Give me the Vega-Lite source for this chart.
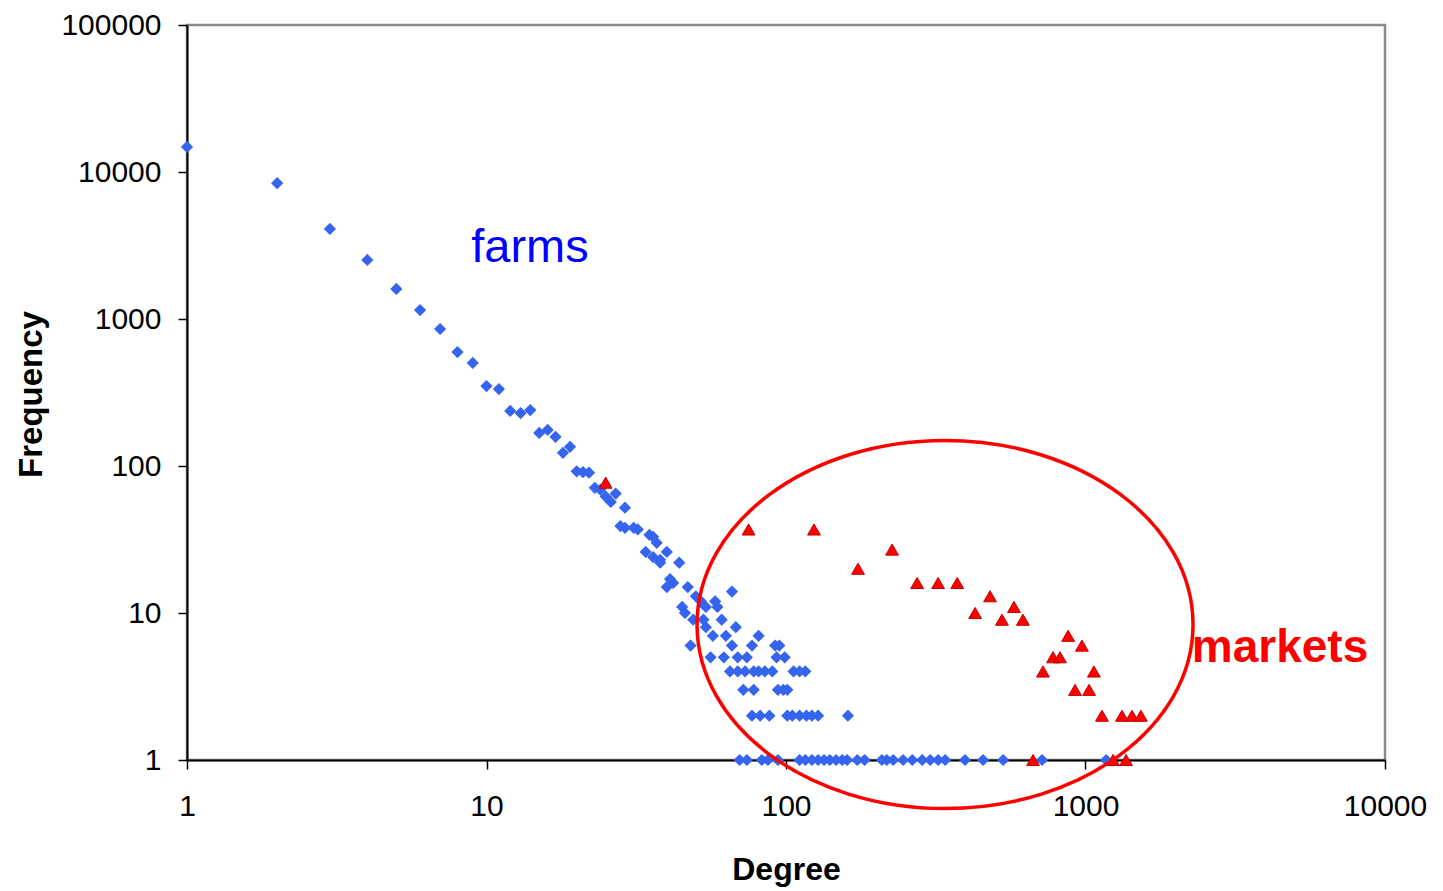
{
  "$schema": "https://vega.github.io/schema/vega-lite/v6.json",
  "autosize": "none",
  "width": 1198,
  "height": 735,
  "padding": {"left": 187, "top": 25, "right": 58, "bottom": 131},
  "background": "white",
  "config": {
    "font": "Liberation Sans",
    "view": {"stroke": "#8a8a8a", "strokeWidth": 2.5},
    "axis": {
      "domainColor": "black", "domainWidth": 2,
      "tickColor": "black", "tickWidth": 1.5, "tickSize": 9,
      "labelColor": "black", "labelFontSize": 30, "labelFont": "Liberation Sans",
      "titleColor": "black", "titleFont": "Liberation Sans", "titleFontWeight": "bold", "titleFontSize": 30,
      "grid": false
    }
  },
  "datasets": {
    "farms": [
      {"degree": 1, "freq": 14800}, {"degree": 2, "freq": 8400}, {"degree": 3, "freq": 4100}, {"degree": 4, "freq": 2520},
      {"degree": 5, "freq": 1600}, {"degree": 6, "freq": 1150}, {"degree": 7, "freq": 855}, {"degree": 8, "freq": 596},
      {"degree": 9, "freq": 502}, {"degree": 10, "freq": 350}, {"degree": 11, "freq": 334}, {"degree": 12, "freq": 237},
      {"degree": 13, "freq": 229}, {"degree": 14, "freq": 240}, {"degree": 15, "freq": 168}, {"degree": 16, "freq": 176},
      {"degree": 17, "freq": 158}, {"degree": 18, "freq": 123}, {"degree": 19, "freq": 135}, {"degree": 20, "freq": 92},
      {"degree": 21, "freq": 91}, {"degree": 22, "freq": 90}, {"degree": 23, "freq": 71}, {"degree": 24, "freq": 69},
      {"degree": 25, "freq": 62}, {"degree": 26, "freq": 57}, {"degree": 27, "freq": 65}, {"degree": 29, "freq": 52},
      {"degree": 28, "freq": 39}, {"degree": 29, "freq": 38}, {"degree": 31, "freq": 38}, {"degree": 32, "freq": 37},
      {"degree": 35, "freq": 34}, {"degree": 36, "freq": 33}, {"degree": 37, "freq": 30}, {"degree": 34, "freq": 26},
      {"degree": 36, "freq": 24}, {"degree": 38, "freq": 23}, {"degree": 40, "freq": 26}, {"degree": 38, "freq": 22},
      {"degree": 44, "freq": 22}, {"degree": 41, "freq": 17}, {"degree": 42, "freq": 16}, {"degree": 40, "freq": 15},
      {"degree": 47, "freq": 15}, {"degree": 66, "freq": 14}, {"degree": 50, "freq": 13}, {"degree": 52, "freq": 12},
      {"degree": 54, "freq": 11}, {"degree": 58, "freq": 12}, {"degree": 59, "freq": 11}, {"degree": 45, "freq": 11},
      {"degree": 46, "freq": 10}, {"degree": 49, "freq": 9}, {"degree": 53, "freq": 9}, {"degree": 61, "freq": 9},
      {"degree": 54, "freq": 8}, {"degree": 68, "freq": 8}, {"degree": 57, "freq": 7}, {"degree": 63, "freq": 7},
      {"degree": 81, "freq": 7}, {"degree": 48, "freq": 6}, {"degree": 66, "freq": 6}, {"degree": 77, "freq": 6},
      {"degree": 92, "freq": 6}, {"degree": 95, "freq": 6}, {"degree": 93, "freq": 5}, {"degree": 99, "freq": 5},
      {"degree": 56, "freq": 5}, {"degree": 62, "freq": 5}, {"degree": 69, "freq": 5}, {"degree": 74, "freq": 5},
      {"degree": 65, "freq": 4}, {"degree": 69, "freq": 4}, {"degree": 73, "freq": 4}, {"degree": 78, "freq": 4},
      {"degree": 81, "freq": 4}, {"degree": 85, "freq": 4}, {"degree": 90, "freq": 4}, {"degree": 106, "freq": 4},
      {"degree": 111, "freq": 4}, {"degree": 116, "freq": 4},
      {"degree": 72, "freq": 3}, {"degree": 78, "freq": 3}, {"degree": 94, "freq": 3}, {"degree": 98, "freq": 3}, {"degree": 101, "freq": 3},
      {"degree": 77, "freq": 2}, {"degree": 82, "freq": 2}, {"degree": 88, "freq": 2}, {"degree": 101, "freq": 2},
      {"degree": 105, "freq": 2}, {"degree": 111, "freq": 2}, {"degree": 117, "freq": 2}, {"degree": 122, "freq": 2},
      {"degree": 128, "freq": 2}, {"degree": 161, "freq": 2},
      {"degree": 70, "freq": 1}, {"degree": 74, "freq": 1}, {"degree": 83, "freq": 1}, {"degree": 87, "freq": 1},
      {"degree": 94, "freq": 1}, {"degree": 111, "freq": 1}, {"degree": 116, "freq": 1}, {"degree": 122, "freq": 1},
      {"degree": 128, "freq": 1}, {"degree": 134, "freq": 1}, {"degree": 140, "freq": 1}, {"degree": 147, "freq": 1},
      {"degree": 154, "freq": 1}, {"degree": 160, "freq": 1}, {"degree": 173, "freq": 1}, {"degree": 183, "freq": 1},
      {"degree": 209, "freq": 1}, {"degree": 217, "freq": 1}, {"degree": 228, "freq": 1}, {"degree": 246, "freq": 1},
      {"degree": 264, "freq": 1}, {"degree": 285, "freq": 1}, {"degree": 303, "freq": 1}, {"degree": 322, "freq": 1},
      {"degree": 340, "freq": 1}, {"degree": 396, "freq": 1}, {"degree": 455, "freq": 1}, {"degree": 531, "freq": 1},
      {"degree": 716, "freq": 1}, {"degree": 1172, "freq": 1}
    ],
    "markets": [
      {"degree": 25, "freq": 77}, {"degree": 75, "freq": 37}, {"degree": 124, "freq": 37}, {"degree": 226, "freq": 27},
      {"degree": 174, "freq": 20}, {"degree": 274, "freq": 16}, {"degree": 322, "freq": 16}, {"degree": 373, "freq": 16},
      {"degree": 480, "freq": 13}, {"degree": 428, "freq": 10}, {"degree": 577, "freq": 11}, {"degree": 526, "freq": 9},
      {"degree": 618, "freq": 9}, {"degree": 875, "freq": 7}, {"degree": 973, "freq": 6}, {"degree": 779, "freq": 5},
      {"degree": 822, "freq": 5}, {"degree": 721, "freq": 4}, {"degree": 1067, "freq": 4}, {"degree": 923, "freq": 3},
      {"degree": 1028, "freq": 3}, {"degree": 1135, "freq": 2}, {"degree": 1324, "freq": 2}, {"degree": 1430, "freq": 2},
      {"degree": 1531, "freq": 2}, {"degree": 668, "freq": 1}, {"degree": 1236, "freq": 1}, {"degree": 1366, "freq": 1}
    ],
    "farmsLabel": [
      {"degree": 13.97, "freq": 2443, "text": "farms"}
    ],
    "marketsLabel": [
      {"degree": 4460, "freq": 4.64, "text": "markets"}
    ],
    "circle": [
      {"degree": 339.6, "freq": 8.35}
    ]
  },
  "encoding": {
    "x": {
      "field": "degree", "type": "quantitative",
      "scale": {"type": "log", "domain": [1, 10000], "nice": false},
      "axis": {"values": [1, 10, 100, 1000, 10000], "format": "d", "title": "Degree", "titleFontSize": 32, "labelPadding": 22, "titleY": 94, "titleBaseline": "top", "labelFlush": false}
    },
    "y": {
      "field": "freq", "type": "quantitative",
      "scale": {"type": "log", "domain": [1, 100000], "nice": false},
      "axis": {"values": [1, 10, 100, 1000, 10000, 100000], "format": "d", "title": "Frequency", "titleFontSize": 33, "labelPadding": 17, "titleX": -146, "titleY": 369, "titleBaseline": "alphabetic", "titleAlign": "center", "titleAngle": -90, "labelFlush": false}
    }
  },
  "layer": [
    {
      "data": {"name": "farms"},
      "mark": {"type": "point", "shape": "diamond", "filled": true, "size": 150, "color": "#3565ee", "opacity": 1}
    },
    {
      "data": {"name": "markets"},
      "mark": {"type": "point", "shape": "triangle-up", "filled": true, "size": 165, "color": "#ff0000", "stroke": "#c40000", "strokeWidth": 1, "opacity": 1}
    },
    {
      "data": {"name": "circle"},
      "mark": {"type": "point", "shape": "M1,0 C1,0.4098 0.5523,0.742 0,0.742 C-0.5523,0.742 -1,0.4098 -1,0 C-1,-0.4098 -0.5523,-0.742 0,-0.742 C0.5523,-0.742 1,-0.4098 1,0 Z", "filled": false, "size": 246016, "stroke": "#ff0000", "strokeWidth": 3.5, "opacity": 1}
    },
    {
      "data": {"name": "farmsLabel"},
      "mark": {"type": "text", "align": "center", "baseline": "alphabetic", "font": "Liberation Sans", "fontSize": 47, "fontWeight": "normal", "color": "#0000ff"},
      "encoding": {"text": {"field": "text"}}
    },
    {
      "data": {"name": "marketsLabel"},
      "mark": {"type": "text", "align": "center", "baseline": "alphabetic", "font": "Liberation Sans", "fontSize": 46, "fontWeight": "bold", "color": "#ff0000"},
      "encoding": {"text": {"field": "text"}}
    }
  ]
}
